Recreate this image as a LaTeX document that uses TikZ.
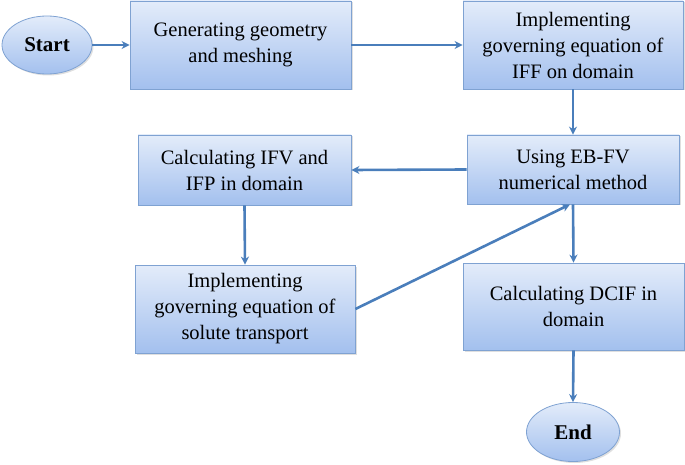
\documentclass[tikz,border=0pt]{standalone}
\usepackage{fontspec}
\setmainfont{Liberation Serif}
\usetikzlibrary{shapes.geometric,arrows.meta,shadows}
\definecolor{boxtop}{HTML}{E3ECFA}
\definecolor{boxbot}{HTML}{A3C0EE}
\definecolor{boxline}{HTML}{7FA2D2}
\definecolor{arrowc}{HTML}{4A7EBB}
\tikzset{
  procbox/.style={draw=boxline, line width=0.8pt, top color=boxtop, bottom color=boxbot,
    align=center, font=\rmfamily\fontsize{20.5}{26}\selectfont, inner sep=0pt,
    drop shadow={shadow xshift=1.5pt, shadow yshift=-1.5pt, opacity=0.25}},
  termnode/.style={ellipse, draw=boxline, line width=0.8pt, top color=boxtop, bottom color=boxbot,
    font=\rmfamily\fontsize{21}{26}\selectfont\bfseries, inner sep=0pt,
    drop shadow={shadow xshift=1.5pt, shadow yshift=-1.5pt, opacity=0.25}},
  flow/.style={draw=arrowc, line width=2.6pt, -{Stealth[length=8pt,width=8pt]}}
}
\begin{document}
\begin{tikzpicture}[x=1pt,y=-1pt]
\useasboundingbox (0,0) rectangle (685,465);
\node[termnode, minimum width=90pt, minimum height=58pt] (start) at (47,45) {Start};
\node[procbox, minimum width=221pt, minimum height=88pt] (gen) at (240.5,45) {Generating geometry\\and meshing};
\node[procbox, minimum width=220pt, minimum height=88pt] (iff) at (573,45) {Implementing\\governing equation of\\IFF on domain};
\node[procbox, minimum width=212pt, minimum height=69pt] (ebfv) at (573,169.5) {Using EB-FV\\numerical method};
\node[procbox, minimum width=213pt, minimum height=70pt] (ifv) at (244.5,170) {Calculating IFV and\\IFP in domain};
\node[procbox, minimum width=220pt, minimum height=88pt] (sol) at (245,309) {Implementing\\governing equation of\\solute transport};
\node[procbox, minimum width=221pt, minimum height=87pt] (dcif) at (573.5,306.5) {Calculating DCIF in\\domain};
\node[termnode, minimum width=93pt, minimum height=59pt] (end) at (573,432) {End};
\draw[flow] (start) -- (gen);
\draw[flow] (gen) -- (iff);
\draw[flow] (iff.south) -- (ebfv.north);
\draw[flow] (ebfv.west) -- (ifv.east);
\draw[flow] (ifv.south) -- (sol.north);
\draw[flow] (sol.east) -- ([xshift=-3pt]ebfv.south);
\draw[flow] (ebfv.south) -- (dcif.north);
\draw[flow] (dcif.south) -- (end.north);
\end{tikzpicture}
\end{document}
